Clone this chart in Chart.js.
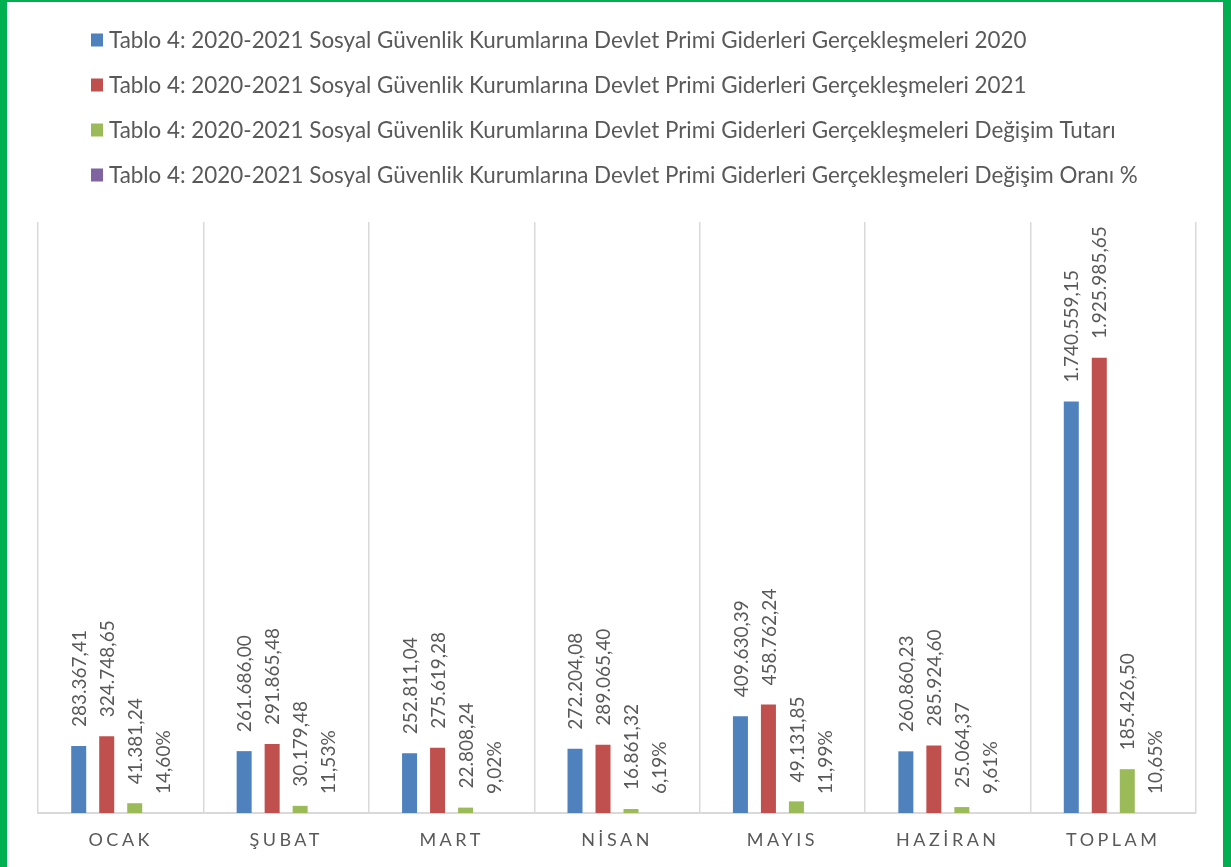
<!DOCTYPE html>
<html>
<head>
<meta charset="utf-8">
<script src="https://cdn.jsdelivr.net/npm/chart.js@4/dist/chart.umd.min.js"></script>
<style>
  html, body { margin: 0; padding: 0; background: #fff; }
  #wrap { position: relative; width: 1231px; height: 867px; overflow: hidden; background: #fff; }
  #c { position: absolute; left: 0; top: 0; }
  #frame { position: absolute; left: 0; top: 0; width: 1231px; height: 867px; box-sizing: border-box;
           border-left: 7px solid #00B050; border-right: 8px solid #00B050; border-top: 2px solid #00B050;
           pointer-events: none; }
</style>
</head>
<body>
<div id="wrap">
  <canvas id="c" width="1231" height="867"></canvas>
  <div id="frame"></div>
</div>
<script>
const categories = ['OCAK', 'ŞUBAT', 'MART', 'NİSAN', 'MAYIS', 'HAZİRAN', 'TOPLAM'];
const seriesNames = [
  'Tablo 4: 2020-2021 Sosyal Güvenlik Kurumlarına Devlet Primi Giderleri Gerçekleşmeleri 2020',
  'Tablo 4: 2020-2021 Sosyal Güvenlik Kurumlarına Devlet Primi Giderleri Gerçekleşmeleri 2021',
  'Tablo 4: 2020-2021 Sosyal Güvenlik Kurumlarına Devlet Primi Giderleri Gerçekleşmeleri Değişim Tutarı',
  'Tablo 4: 2020-2021 Sosyal Güvenlik Kurumlarına Devlet Primi Giderleri Gerçekleşmeleri Değişim Oranı %'
];
const values2020 = [283367.41, 261686.00, 252811.04, 272204.08, 409630.39, 260860.23, 1740559.15];
const values2021 = [324748.65, 291865.48, 275619.28, 289065.40, 458762.24, 285924.60, 1925985.65];
const changeAmount = [41381.24, 30179.48, 22808.24, 16861.32, 49131.85, 25064.37, 185426.50];
const changeRate = [14.60, 11.53, 9.02, 6.19, 11.99, 9.61, 10.65];
const seriesColors = ['#4F81BD', '#C0504D', '#9BBB59', '#8064A2'];
const percentSeries = [false, false, false, true];

const FONT = 'Lato, Carlito, "Open Sans", sans-serif';
const TEXT = '#595959';

function fmtTR(v, pct) {
  const s = Math.abs(v).toFixed(2);
  const [ip, dp] = s.split('.');
  const withDots = ip.replace(/\B(?=(\d{3})+(?!\d))/g, '.');
  return (v < 0 ? '-' : '') + withDots + ',' + dp + (pct ? '%' : '');
}

function fitSize(ctx, text, target, weight) {
  ctx.font = (weight || '') + ' 20px ' + FONT;
  const w = ctx.measureText(text).width;
  return 20 * target / w;
}

const legendPlugin = {
  id: 'customLegend',
  afterDraw(chart) {
    const ctx = chart.ctx;
    const size = fitSize(ctx, seriesNames[0], 918);
    ctx.save();
    ctx.font = size + 'px ' + FONT;
    ctx.textBaseline = 'middle';
    ctx.textAlign = 'left';
    const rowY = [40, 85, 130, 175];
    chart.data.datasets.forEach((ds, i) => {
      const y = rowY[i];
      ctx.fillStyle = ds.backgroundColor;
      ctx.fillRect(91, y - 6.5, 12, 13);
      ctx.fillStyle = TEXT;
      ctx.fillText(ds.label, 109, y + 1);
    });
    ctx.restore();
  }
};

const labelPlugin = {
  id: 'barLabels',
  afterDatasetsDraw(chart) {
    const ctx = chart.ctx;
    const size = fitSize(ctx, '283.367,41', 97);
    ctx.save();
    ctx.font = size + 'px ' + FONT;
    ctx.fillStyle = TEXT;
    ctx.textAlign = 'left';
    ctx.textBaseline = 'middle';
    chart.data.datasets.forEach((ds, di) => {
      const meta = chart.getDatasetMeta(di);
      meta.data.forEach((el, i) => {
        const txt = fmtTR(ds.data[i], percentSeries[di]);
        ctx.save();
        ctx.translate(el.x + 1, el.y - 19);
        ctx.rotate(-Math.PI / 2);
        ctx.fillText(txt, 0, 0);
        ctx.restore();
      });
    });
    ctx.restore();
  }
};

const xLabelPlugin = {
  id: 'xLabels',
  afterDraw(chart) {
    const ctx = chart.ctx;
    const xs = chart.scales.x;
    const spacing = 3.5;
    ctx.save();
    ctx.font = '18px ' + FONT;
    ctx.fillStyle = TEXT;
    ctx.textAlign = 'center';
    ctx.textBaseline = 'middle';
    ctx.letterSpacing = spacing + 'px';
    categories.forEach((c, i) => {
      const x = xs.getPixelForValue(i);
      ctx.fillText(c, x, chart.chartArea.bottom + 27);
    });
    ctx.restore();
  }
};

const data = {
  labels: categories,
  datasets: [values2020, values2021, changeAmount, changeRate].map((arr, i) => ({
    label: seriesNames[i],
    data: arr,
    backgroundColor: seriesColors[i],
    borderWidth: 0,
    categoryPercentage: 0.677,
    barPercentage: 0.536
  }))
};

new Chart(document.getElementById('c'), {
  type: 'bar',
  data,
  options: {
    responsive: false,
    animation: false,
    layout: { padding: { left: 38, right: 35, top: 222, bottom: 54 } },
    plugins: { legend: { display: false }, tooltip: { enabled: false } },
    scales: {
      x: {
        grid: { display: true, offset: true, color: '#D9D9D9', lineWidth: 1.5, drawTicks: false },
        border: { display: true, color: '#D9D9D9', width: 2 },
        ticks: { display: false }
      },
      y: {
        display: false,
        min: 0,
        max: 2500000
      }
    }
  },
  plugins: [legendPlugin, labelPlugin, xLabelPlugin]
});
</script>
</body>
</html>
